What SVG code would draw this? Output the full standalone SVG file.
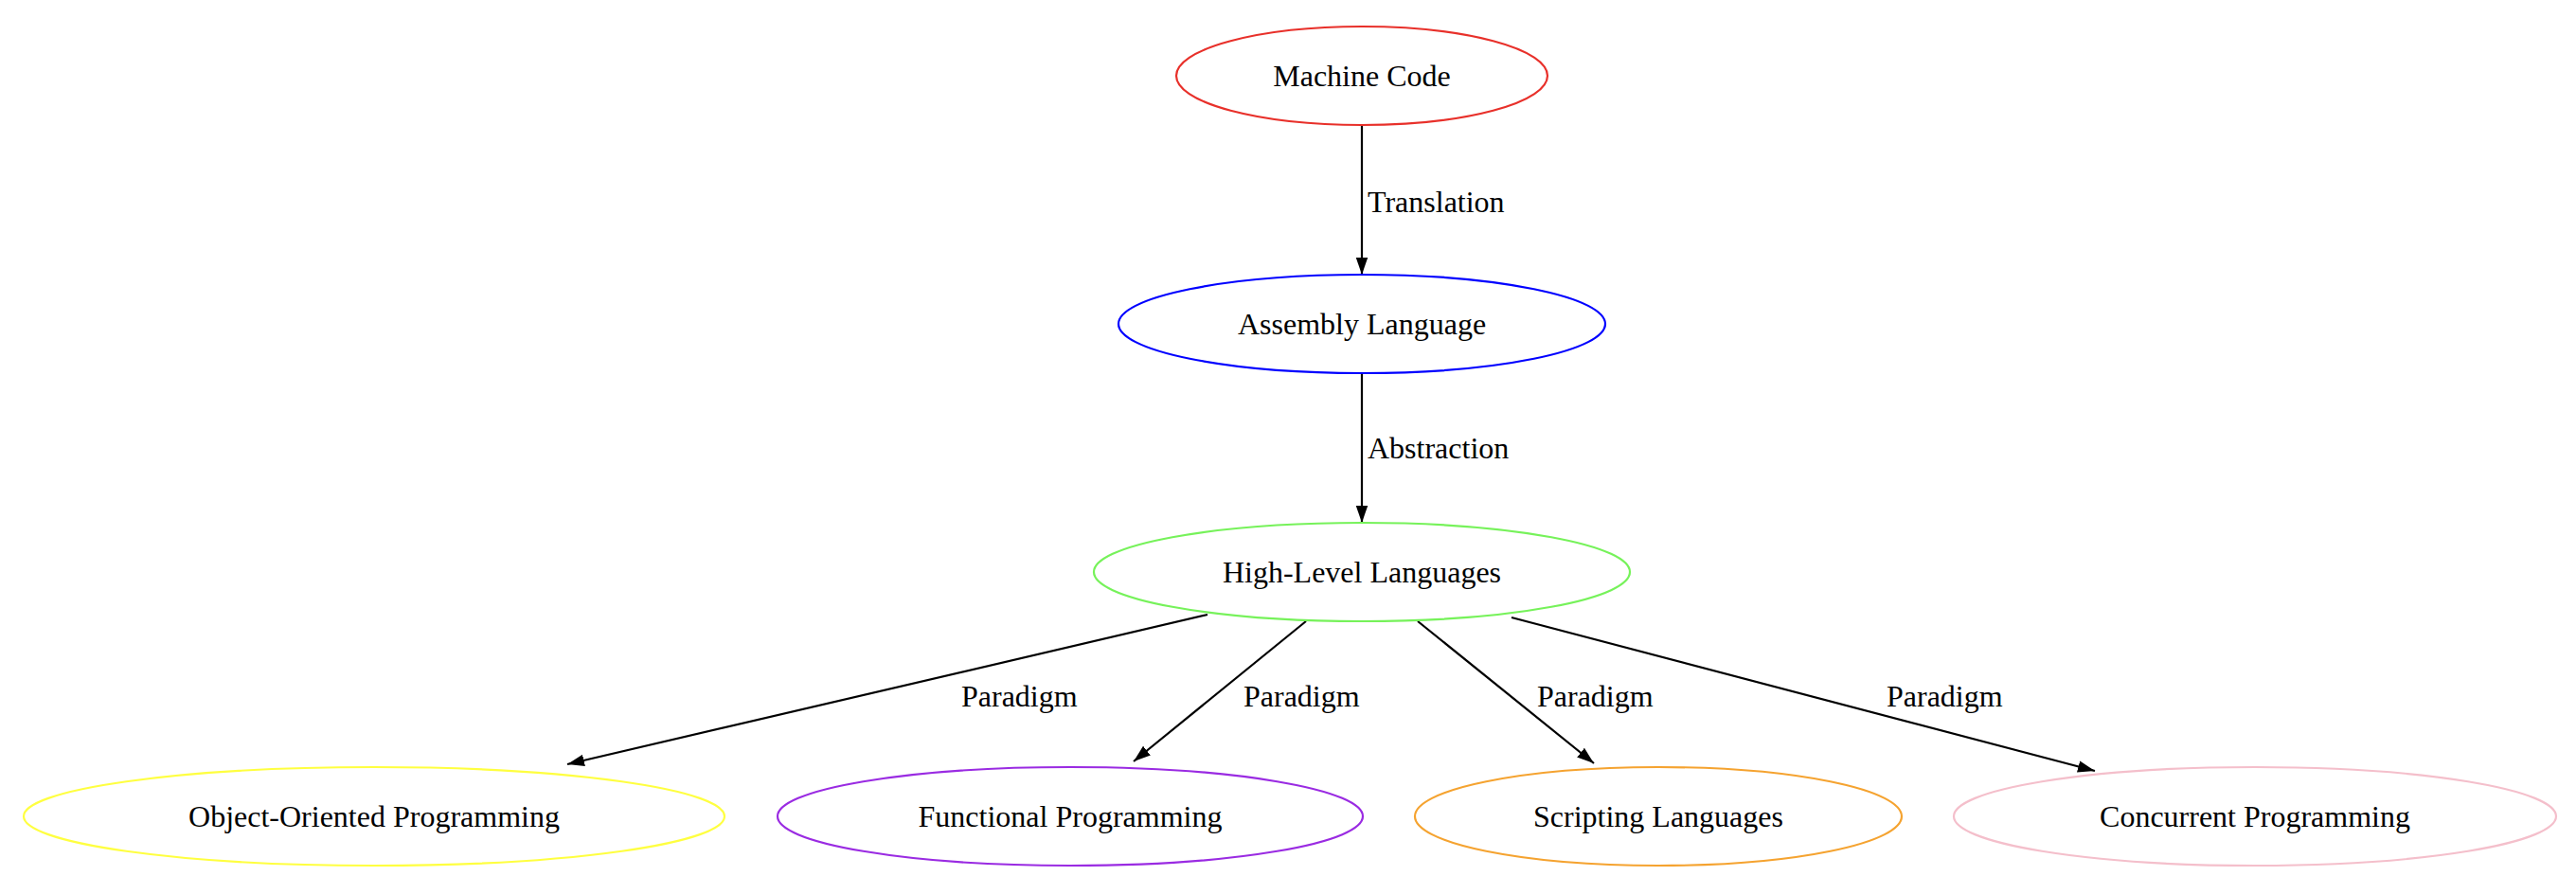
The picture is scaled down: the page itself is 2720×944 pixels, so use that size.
<svg xmlns="http://www.w3.org/2000/svg" width="2720" height="944" viewBox="0 0 2720 944">
<style>
text{font-family:"Liberation Serif","Times New Roman",serif;font-size:32px;fill:#000}
.n text{text-anchor:middle}
ellipse{fill:none;stroke-width:2.2}
.e path{stroke:#000;stroke-width:2.2;fill:none;marker-end:url(#a)}
</style>
<defs><marker id="a" markerUnits="userSpaceOnUse" markerWidth="18" markerHeight="26" refX="26" refY="9" orient="auto" viewBox="0 0 26 18"><path d="M0,0L26,9L0,18Z" fill="#000"/></marker></defs>
<rect width="2720" height="944" fill="#fff"/>
<g id="connectors" class="e">
<path d="M1438,132L1438,290"/>
<path d="M1438,394L1438,552"/>
<path d="M1275,649L599,807"/>
<path d="M1379,656L1197,804"/>
<path d="M1497,656L1683,806"/>
<path d="M1596,652L2212,814"/>
<text x="1444" y="224">Translation</text>
<text x="1444" y="484">Abstraction</text>
<text x="1015" y="746">Paradigm</text>
<text x="1313" y="746">Paradigm</text>
<text x="1623" y="746">Paradigm</text>
<text x="1992" y="746">Paradigm</text>
</g>
<g id="machine" class="n"><ellipse cx="1438" cy="80" rx="196" ry="52" stroke="#e8302a"/><text x="1438" y="91">Machine Code</text></g>
<g id="assembly" class="n"><ellipse cx="1438" cy="342" rx="257" ry="52" stroke="#0000ff"/><text x="1438" y="353">Assembly Language</text></g>
<g id="highlevel" class="n"><ellipse cx="1438" cy="604" rx="283" ry="52" stroke="#76f25a"/><text x="1438" y="615">High-Level Languages</text></g>
<g id="oop" class="n"><ellipse cx="395" cy="862" rx="370" ry="52" stroke="#ffff40"/><text x="395" y="873">Object-Oriented Programming</text></g>
<g id="functional" class="n"><ellipse cx="1130" cy="862" rx="309" ry="52" stroke="#9a2be2"/><text x="1130" y="873">Functional Programming</text></g>
<g id="scripting" class="n"><ellipse cx="1751" cy="862" rx="257" ry="52" stroke="#f5a330"/><text x="1751" y="873">Scripting Languages</text></g>
<g id="concurrent" class="n"><ellipse cx="2381" cy="862" rx="318" ry="52" stroke="#f4bfcb"/><text x="2381" y="873">Concurrent Programming</text></g>
</svg>
